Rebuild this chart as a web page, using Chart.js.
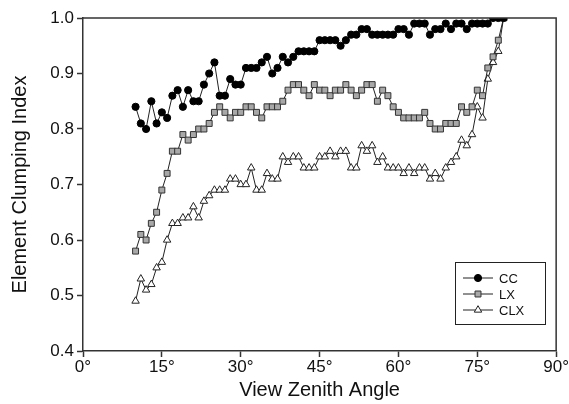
<!DOCTYPE html>
<html>
<head>
<meta charset="utf-8">
<script src="https://cdn.jsdelivr.net/npm/chart.js@4.4.1/dist/chart.umd.min.js"></script>
<style>
  html, body { margin: 0; padding: 0; background: #fff; }
  #wrap { width: 569px; height: 404px; }
</style>
</head>
<body>
<div id="wrap"><canvas id="clump-chart" width="569" height="404"></canvas></div>
<script>
// View zenith angle (degrees) for each sample
const angles = [10, 11, 12, 13, 14, 15, 16, 17, 18, 19, 20, 21, 22, 23, 24, 25, 26, 27, 28, 29,
    30, 31, 32, 33, 34, 35, 36, 37, 38, 39, 40, 41, 42, 43, 44, 45, 46, 47, 48, 49,
    50, 51, 52, 53, 54, 55, 56, 57, 58, 59, 60, 61, 62, 63, 64, 65, 66, 67, 68, 69,
    70, 71, 72, 73, 74, 75, 76, 77, 78, 79, 80];

const ccValues = [0.84, 0.81, 0.80, 0.85, 0.81, 0.83, 0.82, 0.86, 0.87, 0.84, 0.87, 0.85, 0.85, 0.88, 0.90, 0.92, 0.86, 0.86, 0.89, 0.88,
    0.88, 0.91, 0.91, 0.91, 0.92, 0.93, 0.90, 0.91, 0.93, 0.92, 0.93, 0.94, 0.94, 0.94, 0.94, 0.96, 0.96, 0.96, 0.96, 0.95,
    0.96, 0.97, 0.97, 0.98, 0.98, 0.97, 0.97, 0.97, 0.97, 0.97, 0.98, 0.98, 0.97, 0.99, 0.99, 0.99, 0.97, 0.98, 0.98, 0.99,
    0.98, 0.99, 0.99, 0.98, 0.99, 0.99, 0.99, 0.99, 1.00, 1.00, 1.00];

const lxValues = [0.58, 0.61, 0.60, 0.63, 0.65, 0.69, 0.72, 0.76, 0.76, 0.79, 0.78, 0.79, 0.80, 0.80, 0.81, 0.83, 0.84, 0.83, 0.82, 0.83,
    0.83, 0.84, 0.84, 0.83, 0.82, 0.84, 0.84, 0.84, 0.85, 0.87, 0.88, 0.88, 0.87, 0.86, 0.88, 0.87, 0.87, 0.86, 0.87, 0.87,
    0.88, 0.87, 0.86, 0.87, 0.88, 0.88, 0.85, 0.87, 0.86, 0.84, 0.83, 0.82, 0.82, 0.82, 0.82, 0.83, 0.81, 0.80, 0.80, 0.81,
    0.81, 0.81, 0.84, 0.83, 0.84, 0.87, 0.86, 0.91, 0.93, 0.96, 1.00];

const clxValues = [0.49, 0.53, 0.51, 0.52, 0.55, 0.56, 0.60, 0.63, 0.63, 0.64, 0.64, 0.66, 0.64, 0.67, 0.68, 0.69, 0.69, 0.69, 0.71, 0.71,
    0.70, 0.70, 0.73, 0.69, 0.69, 0.72, 0.71, 0.71, 0.75, 0.74, 0.75, 0.75, 0.73, 0.73, 0.73, 0.75, 0.75, 0.76, 0.75, 0.76,
    0.76, 0.73, 0.73, 0.77, 0.76, 0.77, 0.74, 0.75, 0.73, 0.73, 0.73, 0.72, 0.73, 0.72, 0.73, 0.73, 0.71, 0.72, 0.71, 0.73,
    0.74, 0.75, 0.78, 0.77, 0.79, 0.84, 0.82, 0.89, 0.92, 0.94, 1.00];

const seriesNames = ['CC', 'LX', 'CLX'];
const xTicks = [0, 15, 30, 45, 60, 75, 90];
const yTicks = [0.4, 0.5, 0.6, 0.7, 0.8, 0.9, 1.0];

const FONT = '"Liberation Sans", Arial, Helvetica, sans-serif';
const AXIS = '#333';

function pairs(vals) {
    return angles.map((a, i) => ({ x: a, y: vals[i] }));
}

// top/right frame lines and the boxed legend inside the plot
const framePlugin = {
    id: 'frame',
    afterDraw(chart) {
        const { ctx, chartArea: a } = chart;
        ctx.save();
        ctx.strokeStyle = AXIS;
        ctx.lineWidth = 1.5;
        ctx.beginPath();
        ctx.moveTo(a.left, a.top);
        ctx.lineTo(a.right, a.top);
        ctx.lineTo(a.right, a.bottom);
        ctx.stroke();

        const bx = 455, by = 262, bw = 90, bh = 62;
        ctx.lineWidth = 1;
        ctx.strokeStyle = '#222';
        ctx.strokeRect(bx + 0.5, by + 0.5, bw, bh);
        ctx.font = '13px ' + FONT;
        ctx.textBaseline = 'middle';
        chart.data.datasets.forEach((ds, i) => {
            const y = by + 16 + i * 16;
            ctx.strokeStyle = ds.borderColor;
            ctx.lineWidth = 1;
            ctx.beginPath();
            ctx.moveTo(bx + 8, y);
            ctx.lineTo(bx + 38, y);
            ctx.stroke();
            ctx.fillStyle = ds.pointBackgroundColor;
            ctx.strokeStyle = ds.pointBorderColor;
            Chart.helpers.drawPoint(ctx, {
                pointStyle: ds.pointStyle,
                radius: ds.pointRadius,
                borderWidth: 1
            }, bx + 23, y);
            ctx.fillStyle = '#111';
            ctx.fillText(seriesNames[i], bx + 44, y + 1);
        });
        ctx.restore();
    }
};

const ctx = document.getElementById('clump-chart').getContext('2d');

new Chart(ctx, {
    type: 'line',
    data: {
        datasets: [
            {
                label: seriesNames[0],
                data: pairs(ccValues),
                borderColor: '#222',
                borderWidth: 1,
                pointStyle: 'circle',
                pointRadius: 3.6,
                pointBackgroundColor: '#000',
                pointBorderColor: '#000',
                pointBorderWidth: 1
            },
            {
                label: seriesNames[1],
                data: pairs(lxValues),
                borderColor: '#222',
                borderWidth: 1,
                pointStyle: 'rect',
                pointRadius: 4.2,
                pointBackgroundColor: '#a8a8a8',
                pointBorderColor: '#333',
                pointBorderWidth: 1
            },
            {
                label: seriesNames[2],
                data: pairs(clxValues),
                borderColor: '#222',
                borderWidth: 1,
                pointStyle: 'triangle',
                pointRadius: 4.3,
                pointBackgroundColor: '#fff',
                pointBorderColor: '#222',
                pointBorderWidth: 1
            }
        ]
    },
    options: {
        responsive: false,
        animation: false,
        layout: { padding: { top: 18, right: 11, left: 0, bottom: 0 } },
        plugins: {
            legend: { display: false },
            tooltip: { enabled: false }
        },
        scales: {
            x: {
                type: 'linear',
                min: 0,
                max: 90,
                afterBuildTicks: s => { s.ticks = xTicks.map(v => ({ value: v })); },
                afterFit: s => { s.height = 53; },
                ticks: {
                    callback: v => v + '°',
                    color: '#111',
                    font: { family: FONT, size: 17 },
                    padding: 0,
                    maxRotation: 0
                },
                grid: {
                    drawOnChartArea: false,
                    drawTicks: true,
                    tickLength: 6,
                    tickWidth: 1.5,
                    tickColor: AXIS
                },
                border: { color: AXIS, width: 1.5 },
                title: {
                    display: true,
                    text: 'View Zenith Angle',
                    color: '#111',
                    font: { family: FONT, size: 20 },
                    padding: { top: 0, bottom: 2 }
                }
            },
            y: {
                min: 0.4,
                max: 1.0,
                afterBuildTicks: s => { s.ticks = yTicks.map(v => ({ value: v })); },
                afterFit: s => { s.width = 83; },
                ticks: {
                    callback: v => v.toFixed(1),
                    color: '#111',
                    font: { family: FONT, size: 17 },
                    padding: 3
                },
                grid: {
                    drawOnChartArea: false,
                    drawTicks: true,
                    tickLength: 6,
                    tickWidth: 1.5,
                    tickColor: AXIS
                },
                border: { color: AXIS, width: 1.5 },
                title: {
                    display: true,
                    text: 'Element Clumping Index',
                    color: '#111',
                    font: { family: FONT, size: 20 },
                    padding: { top: 8, bottom: 0 }
                }
            }
        }
    },
    plugins: [framePlugin]
});
</script>
</body>
</html>
